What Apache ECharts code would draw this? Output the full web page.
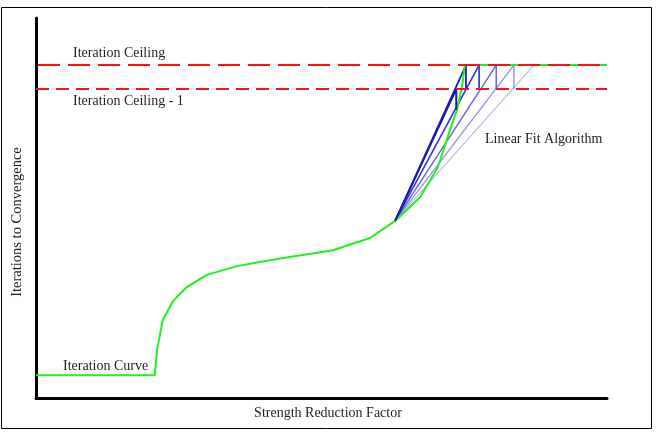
<!DOCTYPE html>
<html>
<head>
<meta charset="utf-8">
<script src="https://cdn.jsdelivr.net/npm/echarts@6/dist/echarts.min.js"></script>
<style>
html,body{margin:0;padding:0;background:#fff;}
#chart{width:656px;height:432px;}
</style>
</head>
<body>
<div id="chart"></div>
<script>
// ---- Data (arbitrary units: x = strength reduction factor, y = iterations) ----
const iterationCurveX = [0, 20.8, 21.2, 22.2, 24.0, 26.4, 29.9, 35.2, 42.2, 52.0, 58.5, 62.9, 67.3, 70.4, 72.5, 73.7, 74.6, 75.1, 100];
const iterationCurveY = [6.0, 6.0, 12.6, 20.5, 25.5, 29.2, 32.4, 34.7, 36.6, 38.9, 42.1, 46.6, 52.9, 60.8, 70.5, 75.8, 81.8, 87.6, 87.6];
const iterationCeiling = 87.6;
const iterationCeilingMinus1 = 81.3;
const fitOrigin = [62.9, 46.6];
const firstFitX = [62.9, 73.6, 73.6];
const firstFitY = [46.6, 81.3, 75.8];
const fitTargetsX = [75.3, 77.6, 80.6, 83.7, 87.2];
const fitHasDrop = [true, true, true, true, false];
const xRange = [0, 100];
const yRange = [0, 100];

const fitColors = ['#1c1cc4', '#3a3ad2', '#6868dc', '#9494e6', '#bcbcf2'];
const fitWidths = [1.8, 1.7, 1.5, 1.4, 1.3];

const chart = echarts.init(document.getElementById('chart'), null, {renderer: 'canvas'});
const serif = '"Liberation Serif", "Times New Roman", serif';

const series = [];
// linear-fit fan lines (lightest drawn first)
for (let i = fitTargetsX.length - 1; i >= 0; i--) {
  const pts = [fitOrigin, [fitTargetsX[i], iterationCeiling]];
  if (fitHasDrop[i]) pts.push([fitTargetsX[i], iterationCeilingMinus1]);
  series.push({
    type: 'line', data: pts, symbol: 'none', silent: true,
    lineStyle: {color: fitColors[i], width: fitWidths[i]}, z: 2
  });
}
// iteration curve
series.push({
  type: 'line', symbol: 'none', silent: true,
  data: iterationCurveX.map((x, i) => [x, iterationCurveY[i]]),
  lineStyle: {color: '#22ee22', width: 2}, z: 3
});
// first fit (darkest)
series.push({
  type: 'line', symbol: 'none', silent: true,
  data: firstFitX.map((x, i) => [x, firstFitY[i]]),
  lineStyle: {color: '#1a1aa8', width: 2}, z: 4
});
// ceilings
series.push({
  type: 'line', symbol: 'none', silent: true,
  data: [[xRange[0], iterationCeiling], [xRange[1], iterationCeiling]],
  lineStyle: {color: '#ff1010', width: 2, type: [22, 8], dashOffset: 28}, z: 5
});
series.push({
  type: 'line', symbol: 'none', silent: true,
  data: [[xRange[0], iterationCeilingMinus1], [xRange[1], iterationCeilingMinus1]],
  lineStyle: {color: '#ff1010', width: 2, type: [13, 7]}, z: 5
});

const txt = (text, x, y, size, align) => ({
  type: 'text', x: x, y: y, silent: true,
  style: {text: text, font: size + 'px ' + serif, fill: '#1e1e1e', textAlign: align || 'left', textVerticalAlign: 'middle'}
});

const yLabel = txt('Iterations to Convergence', 17, 222, 14.5, 'center');
yLabel.rotation = Math.PI / 2;

chart.setOption({
  animation: false,
  backgroundColor: '#fff',
  grid: {left: 36, right: 49, top: 18, bottom: 34, containLabel: false},
  xAxis: {
    type: 'value', min: xRange[0], max: xRange[1],
    axisLine: {show: true, onZero: false, lineStyle: {color: '#000', width: 3}},
    axisTick: {show: false}, axisLabel: {show: false}, splitLine: {show: false}
  },
  yAxis: {
    type: 'value', min: yRange[0], max: yRange[1],
    axisLine: {show: true, onZero: false, lineStyle: {color: '#000', width: 3}},
    axisTick: {show: false}, axisLabel: {show: false}, splitLine: {show: false}
  },
  series: series,
  graphic: [
    {type: 'rect', shape: {x: 1.5, y: 7.5, width: 650, height: 421}, style: {fill: 'none', stroke: '#000', lineWidth: 1}, silent: true, z: 0},
    txt('Iteration Ceiling', 73, 53, 14),
    txt('Iteration Ceiling - 1', 73, 101, 14),
    txt('Linear Fit Algorithm', 485, 139, 14),
    txt('Iteration Curve', 63, 366, 14),
    txt('Strength Reduction Factor', 328, 413, 14, 'center'),
    yLabel
  ]
});
</script>
</body>
</html>
